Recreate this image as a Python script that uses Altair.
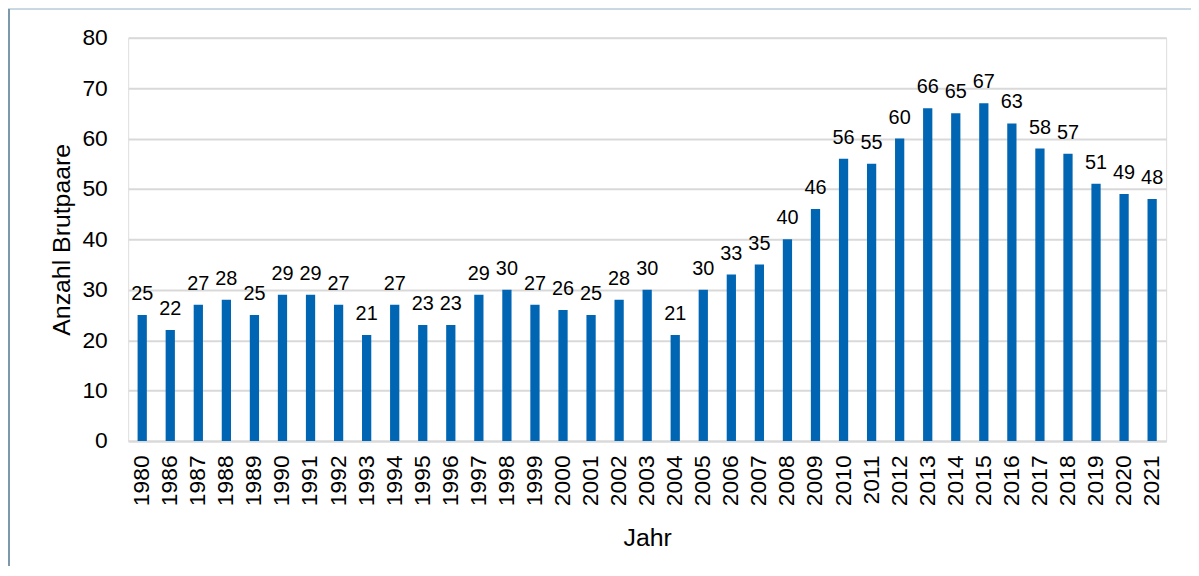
import altair as alt
import pandas as pd

years = ["1980", "1986", "1987", "1988", "1989", "1990", "1991", "1992", "1993", "1994",
         "1995", "1996", "1997", "1998", "1999", "2000", "2001", "2002", "2003", "2004",
         "2005", "2006", "2007", "2008", "2009", "2010", "2011", "2012", "2013", "2014",
         "2015", "2016", "2017", "2018", "2019", "2020", "2021"]
pairs = [25, 22, 27, 28, 25, 29, 29, 27, 21, 27,
         23, 23, 29, 30, 27, 26, 25, 28, 30, 21,
         30, 33, 35, 40, 46, 56, 55, 60, 66, 65,
         67, 63, 58, 57, 51, 49, 48]

df = pd.DataFrame({"Jahr": years, "Anzahl": pairs})

W, H = 1045, 406
FONT = "Liberation Sans"

x = alt.X("Jahr:N", sort=years, title="Jahr",
          scale=alt.Scale(paddingInner=0.67, paddingOuter=0.335),
          axis=alt.Axis(labelAngle=-90, labelAlign="right", labelBaseline="middle",
                        labelPadding=14, labelFontSize=23, labelColor="#000000",
                        ticks=False, domain=True, domainColor="#d9d9d9", domainWidth=2,
                        titleFontSize=25, titleFontWeight="normal", titleColor="#000000",
                        titleY=97, titleBaseline="middle"))
y = alt.Y("Anzahl:Q", title="Anzahl Brutpaare",
          scale=alt.Scale(domain=[0, 80]),
          axis=alt.Axis(values=[0, 10, 20, 30, 40, 50, 60, 70, 80], labelFontSize=23,
                        labelColor="#000000", labelPadding=21, ticks=False, domain=False,
                        grid=True, gridColor="#d9d9d9", gridWidth=2,
                        titleFontSize=25, titleFontWeight="normal", titleColor="#000000",
                        titleX=-67, titleY=H / 2, titleAngle=-90, titleAlign="center",
                        titleBaseline="middle"))

bars = alt.Chart(df).mark_bar(color="#0066b3").encode(x=x, y=y)
labels = alt.Chart(df).mark_text(font=FONT, fontSize=20, baseline="alphabetic",
                                 dy=-15, color="#000000").encode(
    x=alt.X("Jahr:N", sort=years), y="Anzahl:Q", text="Anzahl:Q")

frame_top = alt.Chart(df).mark_rule(color="#c8d7e1", strokeWidth=1.5).encode(
    x=alt.value(-121), x2=alt.value(W + 30), y=alt.value(-28.5))
frame_left = alt.Chart(df).mark_rule(color="#7f97ab", strokeWidth=1.5).encode(
    x=alt.value(-120.5), y=alt.value(-29), y2=alt.value(H + 140))

chart = alt.layer(bars, labels, frame_top, frame_left).properties(
    width=W, height=H,
    autosize=alt.AutoSizeParams(type="none"),
    padding={"left": 121, "top": 28, "right": 25, "bottom": 124},
).configure_view(stroke=None).configure(font=FONT)

chart.save("out.html", embed_options={"renderer": "svg", "actions": False})
